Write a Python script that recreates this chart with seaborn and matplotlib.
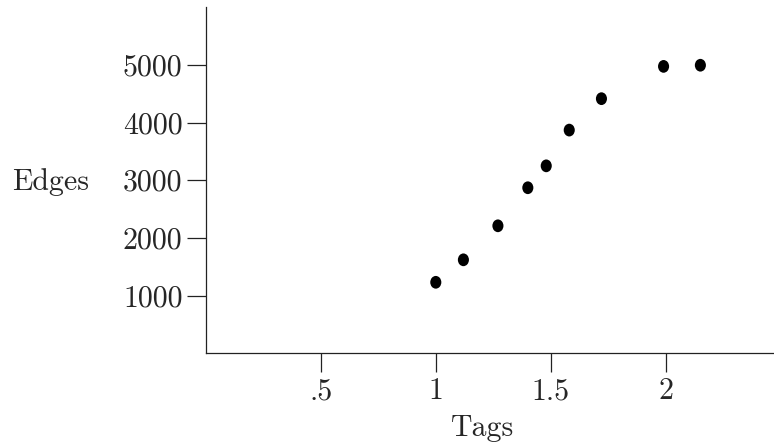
import matplotlib
matplotlib.use("Agg")
import matplotlib.pyplot as plt
from matplotlib.path import Path
from matplotlib.transforms import Affine2D
import seaborn as sns
import pandas as pd

# Data
tags = [1.00, 1.12, 1.27, 1.40, 1.48, 1.58, 1.72, 1.99, 2.15]
edges = [1230, 1620, 2210, 2870, 3250, 3870, 4415, 4975, 4995]

x_ticks = [0.5, 1.0, 1.5, 2.0]
x_tick_labels = [".5", "1", "1.5", "2"]
y_ticks = [1000, 2000, 3000, 4000, 5000]
y_tick_labels = ["1000", "2000", "3000", "4000", "5000"]

df = pd.DataFrame({"Tags": tags, "Edges": edges})

sns.set_style("ticks")
plt.rcParams["font.family"] = ["cmr10", "DejaVu Serif"]
plt.rcParams["axes.unicode_minus"] = False

fig = plt.figure(figsize=(7.74, 4.42), dpi=100)
ax = fig.add_axes([0.2658, 0.2009, 0.7342, 0.7826])

ellipse = Path.unit_circle().transformed(Affine2D().scale(0.87, 1.0))
sns.scatterplot(data=df, x="Tags", y="Edges", ax=ax, marker=ellipse,
                s=84, color="black", edgecolor="none", linewidth=0)

ax.set_xlim(0, 2.47)
ax.set_ylim(0, 6000)
ax.set_xticks(x_ticks)
ax.set_xticklabels(x_tick_labels)
ax.set_yticks(y_ticks)
ax.set_yticklabels(y_tick_labels)

sns.despine(ax=ax)
for s in ("left", "bottom"):
    ax.spines[s].set_linewidth(0.9)
    ax.spines[s].set_color("#222222")

ax.tick_params(axis="both", direction="out", length=13.7, width=0.9,
               color="#222222", labelsize=21.5, pad=3)
ax.tick_params(axis="x", pad=4)

ax.set_xlabel("Tags", fontsize=21.5)
ax.xaxis.set_label_coords(0.488, -0.177)
ax.set_ylabel("Edges", fontsize=21.5, rotation=0, ha="center", va="center")
ax.yaxis.set_label_coords(-0.2726, 0.495)

fig.savefig("out.png", dpi=100)
